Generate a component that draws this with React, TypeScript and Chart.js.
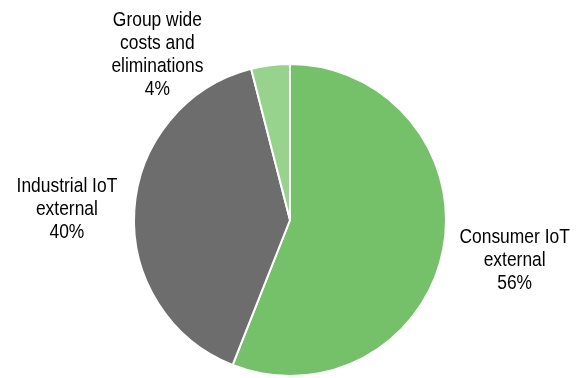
import React, { useEffect, useRef } from "react";
import { Chart, registerables } from "chart.js";

Chart.register(...registerables);

const categories = ["Consumer IoT external", "Industrial IoT external", "Group wide costs and eliminations"];
const labelLines = [["Consumer IoT", "external"], ["Industrial IoT", "external"], ["Group wide", "costs and", "eliminations"]];
const shares = [56, 40, 4];
const colors = ["#74C16A", "#6D6D6D", "#98D38E"];
// label centre offsets from pie centre, in units of radius
const labelOffsets = [[1.44, 0.26], [-1.43, -0.07], [-0.85, -1.06]];

const labelPlugin = {
  id: "outerLabels",
  afterDraw(chart: any) {
    const ctx = chart.ctx;
    const meta = chart.getDatasetMeta(0);
    const sx = 0.85;
    meta.data.forEach((arc: any, i: number) => {
      const r = arc.outerRadius;
      const cx = arc.x + labelOffsets[i][0] * r;
      const cy = arc.y + labelOffsets[i][1] * r;
      const lines = [...labelLines[i], shares[i] + "%"];
      const lh = 23;
      const top = cy - ((lines.length - 1) * lh) / 2;
      ctx.save();
      ctx.translate(cx, 0);
      ctx.scale(sx, 1);
      ctx.font = '20.5px "Liberation Sans", Arial, sans-serif';
      ctx.fillStyle = "#000";
      ctx.textAlign = "center";
      ctx.textBaseline = "middle";
      lines.forEach((t, k) => ctx.fillText(t, 0, top + k * lh));
      ctx.restore();
    });
  },
};

export default function App() {
  const ref = useRef<HTMLCanvasElement>(null);
  useEffect(() => {
    const chart = new Chart(ref.current!, {
      type: "pie",
      data: {
        labels: categories,
        datasets: [
          {
            data: shares,
            backgroundColor: colors,
            borderColor: "#ffffff",
            borderWidth: 2,
          },
        ],
      },
      options: {
        responsive: false,
        animation: false,
        layout: { padding: { left: 133, right: 135, top: 63, bottom: 1 } },
        plugins: { legend: { display: false }, tooltip: { enabled: false } },
      },
      plugins: [labelPlugin],
    });
    return () => chart.destroy();
  }, []);
  return (
    <div style={{ position: "fixed", left: 0, top: 0, width: 582, height: 378, background: "#fff" }}>
      <canvas ref={ref} width={582} height={378} />
    </div>
  );
}
